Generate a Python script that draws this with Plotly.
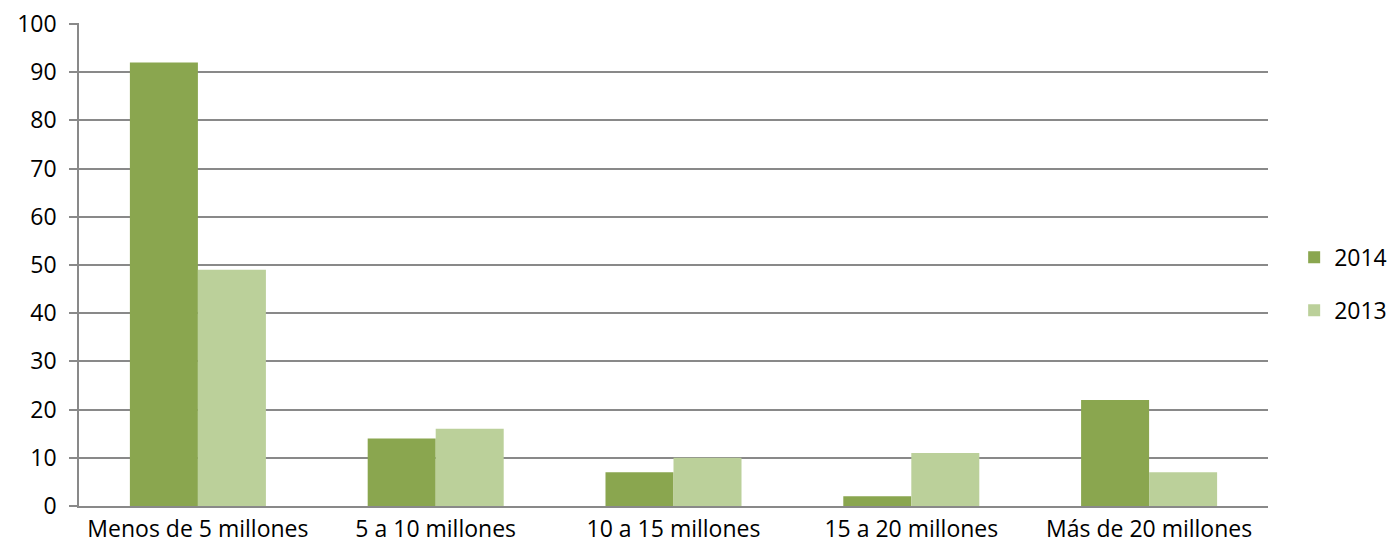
import plotly.graph_objects as go

categories = ["Menos de 5 millones", "5 a 10 millones", "10 a 15 millones", "15 a 20 millones", "Más de 20 millones"]
values_2014 = [92, 14, 7, 2, 22]
values_2013 = [49, 16, 10, 11, 7]
y_ticks = [0, 10, 20, 30, 40, 50, 60, 70, 80, 90, 100]

fig = go.Figure()
fig.add_trace(go.Bar(name="2014", x=categories, y=values_2014, marker_color="#8aa64f",
                     marker_line_width=0, legendgroup="a"))
fig.add_trace(go.Bar(name="2013", x=categories, y=values_2013, marker_color="#bbd09a",
                     marker_line_width=0, legendgroup="b"))

fig.update_layout(
    width=1396, height=553,
    margin=dict(l=71, r=127, t=15, b=55),
    paper_bgcolor="white", plot_bgcolor="white",
    barmode="group", bargap=0.428, bargroupgap=0,
    font=dict(family="Open Sans, Liberation Sans, sans-serif", size=23, color="black"),
    showlegend=True,
    legend=dict(x=1.022, y=0.46, xanchor="left", yanchor="middle",
                tracegroupgap=20, font=dict(size=23), itemwidth=30),
    xaxis=dict(showline=True, linecolor="#898989", linewidth=1.5, ticks="",
               showgrid=False, ticklabelstandoff=2, ticklabeloverflow="allow",
               automargin=False),
    yaxis=dict(range=[0, 100.2], tickvals=y_ticks, showgrid=True, gridcolor="#898989",
               gridwidth=1.5, showline=True, linecolor="#898989", linewidth=1.5,
               ticks="outside", ticklen=8, tickcolor="#898989", tickwidth=1.5,
               zeroline=False, ticklabelstandoff=8, ticklabeloverflow="allow",
               automargin=False),
)

fig.write_html("out.html")
